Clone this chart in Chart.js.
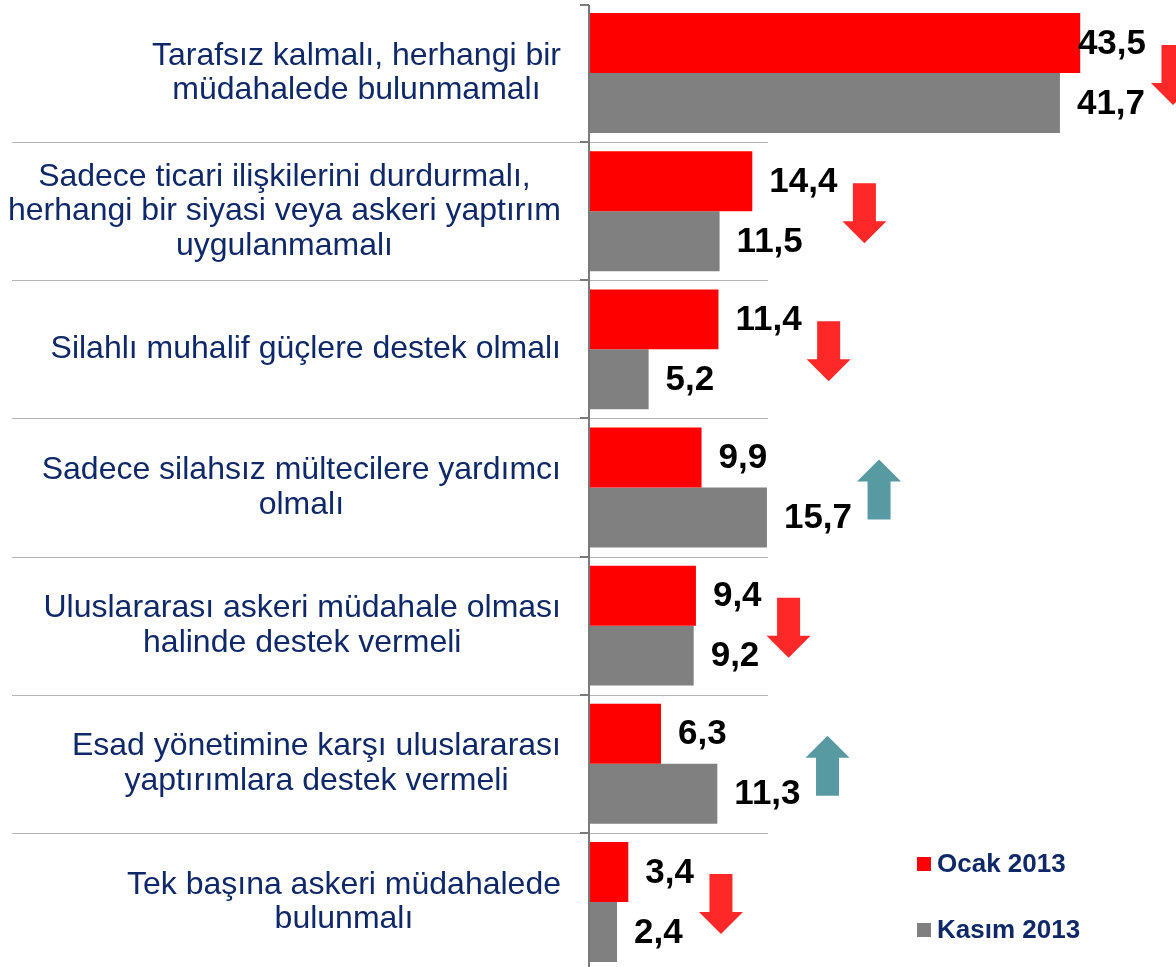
<!DOCTYPE html>
<html lang="tr">
<head>
<meta charset="utf-8">
<title>Suriye anketi</title>
<script src="https://cdn.jsdelivr.net/npm/chart.js@4.4.1/dist/chart.umd.min.js"></script>
<style>
    html, body { margin: 0; padding: 0; background: #fff; overflow: hidden; }
    #wrap { position: relative; width: 1176px; height: 975px; }
</style>
</head>
<body>
<div id="wrap"><canvas id="anketChart"></canvas></div>
<script>
"use strict"

// cevap secenekleri (satir kirilimlariyla)
const CATEGORIES = [
    ["Tarafsız kalmalı, herhangi bir", "müdahalede bulunmamalı"],
    ["Sadece ticari ilişkilerini durdurmalı,", "herhangi bir siyasi veya askeri yaptırım", "uygulanmamalı"],
    ["Silahlı muhalif güçlere destek olmalı"],
    ["Sadece silahsız mültecilere yardımcı", "olmalı"],
    ["Uluslararası askeri müdahale olması", "halinde destek vermeli"],
    ["Esad yönetimine karşı uluslararası", "yaptırımlara destek vermeli"],
    ["Tek başına askeri müdahalede", "bulunmalı"]
]
const SERIES_NAMES = ["Ocak 2013", "Kasım 2013"]
const OCAK_2013 = [43.5, 14.4, 11.4, 9.9, 9.4, 6.3, 3.4]
const KASIM_2013 = [41.7, 11.5, 5.2, 15.7, 9.2, 11.3, 2.4]

const NAVY = "#0f2868"
const FONT = '"Liberation Sans", Arial, sans-serif'

function formatValue(v) {
    return v.toFixed(1).replace(".", ",")
}

function drawArrow(ctx, cx, cy, up, color) {
    const w = 44, shaft = 23, h = 60, head = 22
    const dir = up ? -1 : 1
    const tipY = cy + dir * h / 2
    const baseY = cy - dir * h / 2
    const neckY = tipY - dir * head
    ctx.beginPath()
    ctx.moveTo(cx - shaft / 2, baseY)
    ctx.lineTo(cx + shaft / 2, baseY)
    ctx.lineTo(cx + shaft / 2, neckY)
    ctx.lineTo(cx + w / 2, neckY)
    ctx.lineTo(cx, tipY)
    ctx.lineTo(cx - w / 2, neckY)
    ctx.lineTo(cx - shaft / 2, neckY)
    ctx.closePath()
    ctx.fillStyle = color
    ctx.fill()
}

// ayrac cizgileri, eksen, kategori yazilari, degerler, oklar ve lejant
const decorPlugin = {
    id: "decor",
    beforeDatasetsDraw(chart) {
        const ctx = chart.ctx
        const y = chart.scales.y
        const area = chart.chartArea
        const band = y.getPixelForValue(1) - y.getPixelForValue(0)
        ctx.save()
        ctx.strokeStyle = "#b3b3b3"
        ctx.lineWidth = 1
        for (let i = 1; i < CATEGORIES.length; i++) {
            const yy = Math.round(y.getPixelForValue(i) - band / 2) + 0.5
            ctx.beginPath()
            ctx.moveTo(12, yy)
            ctx.lineTo(768, yy)
            ctx.stroke()
        }
        ctx.restore()
    },
    afterDatasetsDraw(chart) {
        const ctx = chart.ctx
        const x = chart.scales.x
        const y = chart.scales.y
        const area = chart.chartArea
        const band = y.getPixelForValue(1) - y.getPixelForValue(0)
        const axisX = x.getPixelForValue(0)

        ctx.save()

        // dikey eksen ve kucuk cizgiler
        ctx.strokeStyle = "#7a7a7a"
        ctx.lineWidth = 2
        ctx.beginPath()
        ctx.moveTo(axisX - 1, 5)
        ctx.lineTo(axisX - 1, chart.height)
        ctx.stroke()
        ctx.beginPath()
        ctx.moveTo(axisX - 10, 5)
        ctx.lineTo(axisX - 1, 5)
        for (let i = 1; i < CATEGORIES.length; i++) {
            const yy = Math.round(y.getPixelForValue(i) - band / 2)
            ctx.moveTo(axisX - 10, yy)
            ctx.lineTo(axisX - 1, yy)
        }
        ctx.stroke()

        // kategori yazilari: blok sagda hizali, satirlar ortali
        ctx.font = "32px " + FONT
        ctx.fillStyle = NAVY
        ctx.textAlign = "center"
        ctx.textBaseline = "middle"
        const lineH = 34.5
        CATEGORIES.forEach((lines, i) => {
            const maxW = Math.max(...lines.map(l => ctx.measureText(l).width))
            const cx = axisX - 29 - maxW / 2
            const cy = y.getPixelForValue(i)
            lines.forEach((line, k) => {
                ctx.fillText(line, cx, cy + (k - (lines.length - 1) / 2) * lineH)
            })
        })

        // bar degerleri ve degisim oklari
        ctx.font = "bold 35px " + FONT
        ctx.fillStyle = "#000"
        ctx.textAlign = "left"
        const rowEnds = new Array(CATEGORIES.length).fill(0)
        chart.data.datasets.forEach((ds, d) => {
            const meta = chart.getDatasetMeta(d)
            meta.data.forEach((bar, i) => {
                const txt = formatValue(ds.data[i])
                const w = ctx.measureText(txt).width
                const tx = Math.min(bar.x + 17, chart.width - w - 30)
                ctx.fillText(txt, tx, bar.y + 1)
                rowEnds[i] = Math.max(rowEnds[i], tx + w)
            })
        })
        CATEGORIES.forEach((_, i) => {
            const up = KASIM_2013[i] > OCAK_2013[i]
            const color = up ? "#589aa1" : "#ff2828"
            drawArrow(ctx, rowEnds[i] + 5 + 22, y.getPixelForValue(i) + 2, up, color)
        })

        // lejant
        ctx.font = "bold 26px " + FONT
        ctx.textBaseline = "middle"
        const legendY = [864, 930]
        chart.data.datasets.forEach((ds, d) => {
            ctx.fillStyle = ds.backgroundColor
            ctx.fillRect(917, legendY[d] - 7, 14, 14)
            ctx.fillStyle = NAVY
            ctx.fillText(ds.label, 937, legendY[d] + 1)
        })

        ctx.restore()
    }
}

const chart = new Chart(document.getElementById("anketChart"), {
    type: "bar",
    data: {
        labels: CATEGORIES,
        datasets: [
            { label: SERIES_NAMES[0], data: OCAK_2013, backgroundColor: "#ff0000" },
            { label: SERIES_NAMES[1], data: KASIM_2013, backgroundColor: "#808080" }
        ]
    },
    options: {
        indexAxis: "y",
        responsive: true,
        maintainAspectRatio: false,
        animation: false,
        layout: { padding: { left: 590, right: 0, top: 4, bottom: 4 } },
        datasets: {
            bar: { categoryPercentage: 0.868, barPercentage: 1, borderWidth: 0 }
        },
        scales: {
            x: { display: false, min: 0, max: 52 },
            y: { display: false }
        },
        plugins: {
            legend: { display: false },
            tooltip: { enabled: false }
        }
    },
    plugins: [decorPlugin]
})
</script>
</body>
</html>
